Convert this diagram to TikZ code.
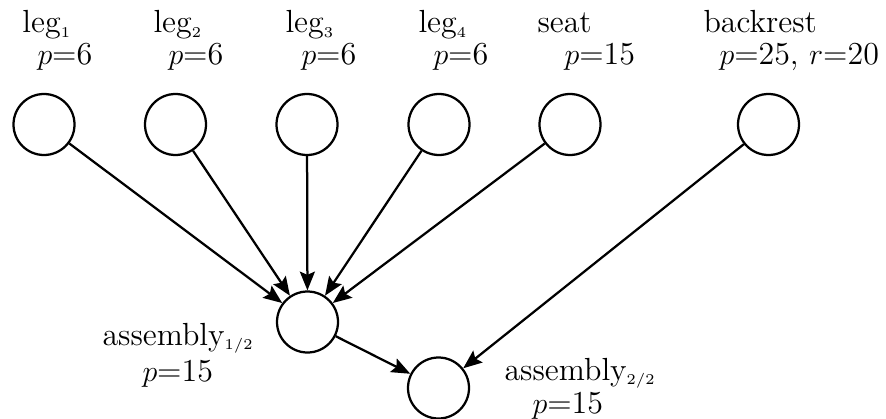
\documentclass[tikz,border=0pt]{standalone}
\usetikzlibrary{arrows.meta}
\begin{document}
\begin{tikzpicture}[x=0.4pt,y=-0.4pt,
  vtx/.style={circle,draw,line width=0.9pt,minimum size=24.4pt,inner sep=0pt},
  lbl/.style={anchor=base west,inner sep=0pt,font=\fontsize{12.8}{15}\selectfont},
  arr/.style={line width=0.9pt,-{Stealth[length=7.5pt,width=6pt,inset=1.3pt]}}]
\useasboundingbox (0,0) rectangle (886,419);
\node[vtx] (l1) at (44,124.5) {};
\node[vtx] (l2) at (175.5,124.5) {};
\node[vtx] (l3) at (307,124.5) {};
\node[vtx] (l4) at (439,124.5) {};
\node[vtx] (st) at (570,124.5) {};
\node[vtx] (bk) at (768.5,124.5) {};
\node[vtx] (a1) at (307.5,322) {};
\node[vtx] (a2) at (438.5,388) {};
\node[lbl] (t1) at (22,33) {leg$_{\scriptscriptstyle 1}$};
\node[lbl] (p1) at (37,65) {$p$=6};
\node[lbl] (t2) at (153,33) {leg$_{\scriptscriptstyle 2}$};
\node[lbl] (p2) at (168,65) {$p$=6};
\node[lbl] (t3) at (285,33) {leg$_{\scriptscriptstyle 3}$};
\node[lbl] (p3) at (301,65) {$p$=6};
\node[lbl] (t4) at (418,33) {leg$_{\scriptscriptstyle 4}$};
\node[lbl] (p4) at (433,65) {$p$=6};
\node[lbl] (ts) at (537,33) {seat};
\node[lbl] (ps) at (564,65) {$p$=15};
\node[lbl] (tb) at (703,33) {backrest};
\node[lbl] (pb) at (719,65) {$p$=25, $r$=20};
\node[lbl] (ta1) at (102,345) {assembly$_{\scriptscriptstyle 1/2}$};
\node[lbl] (pa1) at (142,381) {$p$=15};
\node[lbl] (ta2) at (504,380) {assembly$_{\scriptscriptstyle 2/2}$};
\node[lbl] (pa2) at (532,413) {$p$=15};
\draw[arr] (l1) -- (a1);
\draw[arr] (l2) -- (a1);
\draw[arr] (l3) -- (a1);
\draw[arr] (l4) -- (a1);
\draw[arr] (st) -- (a1);
\draw[arr] (a1) -- (a2);
\draw[arr] (bk) -- (a2);
\end{tikzpicture}
\end{document}
